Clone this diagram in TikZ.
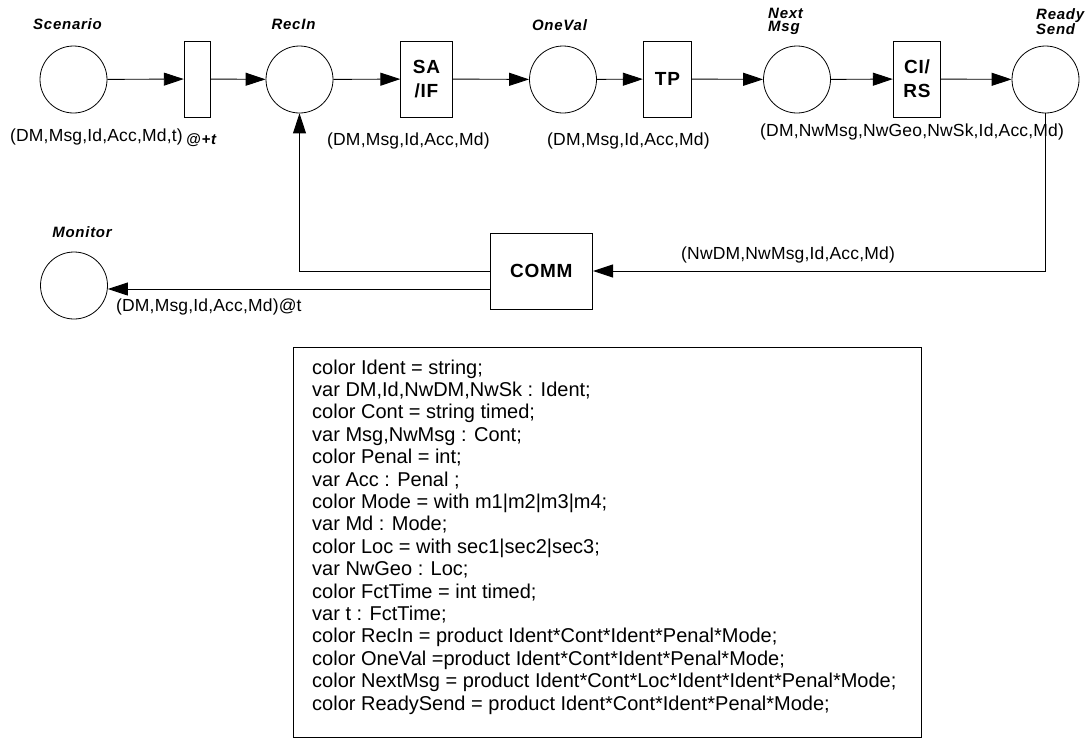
\documentclass[tikz,border=0pt]{standalone}
\usepackage{fontspec}
\setmainfont{Liberation Sans}
\newfontfamily\lblfont[LetterSpace=5]{Liberation Sans}
\newfontfamily\trfont[LetterSpace=4]{Liberation Sans}
\newfontfamily\insfont[LetterSpace=1]{Liberation Sans}
\newfontfamily\declfont{Liberation Sans}
\usetikzlibrary{arrows.meta}
\begin{document}
\begin{tikzpicture}[x=1pt,y=-1pt,
  place/.style={circle,draw,line width=0.8pt,minimum size=67pt,inner sep=0pt},
  trans/.style={rectangle,draw,line width=0.8pt,minimum height=76pt,inner sep=0pt,
    font=\trfont\fontsize{19}{24}\selectfont\bfseries,align=center},
  lbl/.style={font=\lblfont\fontsize{15}{13}\selectfont\bfseries\itshape,inner sep=0pt},
  ins/.style={font=\insfont\fontsize{17.5}{19}\selectfont,inner sep=0pt,anchor=base west},
  conn/.style={-{Triangle[length=20pt,width=13pt]},line width=0.9pt},
  decl/.style={font=\declfont\fontsize{20}{22}\selectfont,inner sep=0pt,anchor=base west}]
\useasboundingbox (0,0) rectangle (1092,740);

% places
\node[place] (scen) at (73.5,79.5) {};
\node[place] (recin) at (299.5,79.5) {};
\node[place] (oneval) at (563,79.5) {};
\node[place] (next) at (797,79.5) {};
\node[place] (ready) at (1045.5,79.5) {};
\node[place] (mon) at (74,285.5) {};

% transitions
\node[trans,minimum width=26pt] (t1) at (197.2,79) {};
\node[trans,minimum width=51.5pt] (saif) at (426.5,79) {SA\\/IF};
\node[trans,minimum width=48.5pt] (tp) at (667.5,79) {TP};
\node[trans,minimum width=47.5pt] (cirs) at (917,79) {CI/\\RS};
\node[trans,minimum width=102.7pt] (comm) at (541.3,271) {COMM};

% place labels
\node[lbl,anchor=base] (lscen) at (67.5,29) {Scenario};
\node[lbl,anchor=base] (lrecin) at (293.5,29) {RecIn};
\node[lbl,anchor=base] (loneval) at (559.5,30) {OneVal};
\node[lbl,align=left,anchor=north west] (lnext) at (768,8) {Next\\Msg};
\node[lbl,align=left,anchor=north west] (lready) at (1036,8) {Ready\\Send};
\node[lbl,anchor=base] (lmon) at (82,237) {Monitor};

% arc inscriptions
\node[ins] (i1) at (10,141) {(DM,Msg,Id,Acc,Md,t)};
\node[lbl,anchor=base west] (i1t) at (186,144) {@+t};
\node[ins] (i2) at (327,145) {(DM,Msg,Id,Acc,Md)};
\node[ins] (i3) at (547,145) {(DM,Msg,Id,Acc,Md)};
\node[ins] (i4) at (760,136) {(DM,NwMsg,NwGeo,NwSk,Id,Acc,Md)};
\node[ins] (i5) at (681,259) {(NwDM,NwMsg,Id,Acc,Md)};
\node[ins] (i6) at (116,311) {(DM,Msg,Id,Acc,Md)@t};

% connectors
\draw[conn] (scen) -- (t1);
\draw[conn] (t1) -- (recin);
\draw[conn] (recin) -- (saif);
\draw[conn] (saif) -- (oneval);
\draw[conn] (oneval) -- (tp);
\draw[conn] (tp) -- (next);
\draw[conn] (next) -- (cirs);
\draw[conn] (cirs) -- (ready);
\draw[conn] (ready.south) |- (comm.east);
\draw[conn] (comm.west) -| (recin.south);
\coordinate (cm) at ([yshift=-18pt]comm.west);
\draw[conn] (cm) -- (mon.east |- cm);

% declarations box
\node[draw,line width=0.9pt,minimum width=628pt,minimum height=390pt,inner sep=0pt,anchor=north west] (declbox) at (293,347) {};
\foreach \txt [count=\i] in {%
  {color Ident = string;},
  {var DM,Id,NwDM,NwSk : Ident;},
  {color Cont = string timed;},
  {var Msg,NwMsg : Cont;},
  {color Penal = int;},
  {var Acc : Penal ;},
  {color Mode = with m1|m2|m3|m4;},
  {var Md : Mode;},
  {color Loc = with sec1|sec2|sec3;},
  {var NwGeo : Loc;},
  {color FctTime = int timed;},
  {var t : FctTime;},
  {color RecIn = product Ident*Cont*Ident*Penal*Mode;},
  {color OneVal =product Ident*Cont*Ident*Penal*Mode;},
  {color NextMsg = product Ident*Cont*Loc*Ident*Ident*Penal*Mode;},
  {color ReadySend = product Ident*Cont*Ident*Penal*Mode;}}
  \node[decl] (d\i) at (312,{374+(\i-1)*22.4}) {\txt};
\end{tikzpicture}
\end{document}
